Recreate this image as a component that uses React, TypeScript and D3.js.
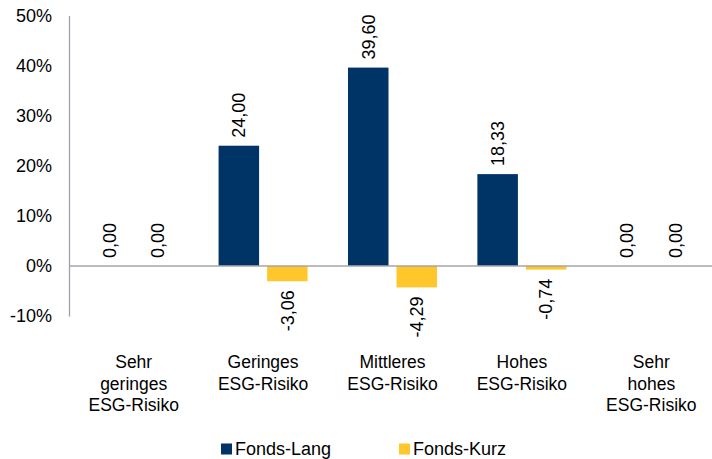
import React, { useEffect, useRef } from 'react';
import * as d3 from 'd3';

const categories = [
  ['Sehr', 'geringes', 'ESG-Risiko'],
  ['Geringes', 'ESG-Risiko'],
  ['Mittleres', 'ESG-Risiko'],
  ['Hohes', 'ESG-Risiko'],
  ['Sehr', 'hohes', 'ESG-Risiko'],
];
const seriesNames = ['Fonds-Lang', 'Fonds-Kurz'];
const fondsLang = [0.0, 24.0, 39.6, 18.33, 0.0];
const fondsKurz = [0.0, -3.06, -4.29, -0.74, 0.0];
const yTicks = [-10, 0, 10, 20, 30, 40, 50];
const colors = ['#003366', '#ffc72c'];

const W = 712;
const H = 459;
const FONT = '"Liberation Sans", Arial, sans-serif';

function fmt(v: number) {
  return v.toFixed(2).replace('.', ',');
}

export default function App() {
  const ref = useRef<SVGSVGElement | null>(null);

  useEffect(() => {
    const svg = d3.select(ref.current);
    svg.selectAll('*').remove();

    const left = 69;
    const right = 716;
    const top = 15.5;
    const bottom = 316;

    const y = d3.scaleLinear().domain([-10, 50]).range([bottom, top]);
    const x0 = d3.scaleBand<number>()
      .domain(d3.range(categories.length))
      .range([left, right])
      .paddingInner(0.312)
      .paddingOuter(0.156);
    const x1 = d3.scaleBand<string>()
      .domain(seriesNames)
      .range([0, x0.bandwidth()])
      .paddingInner(0.165);

    const series = [fondsLang, fondsKurz];

    // y axis labels, no ticks
    const yAxis = d3.axisLeft(y)
      .tickValues(yTicks)
      .tickSize(0)
      .tickPadding(17)
      .tickFormat((d) => `${d}%`);
    const gy = svg.append('g')
      .attr('transform', `translate(${left},0)`)
      .call(yAxis);
    gy.select('.domain').attr('stroke', '#9aa3ab').attr('stroke-width', 1.3);
    gy.selectAll('text')
      .attr('font-family', FONT)
      .attr('font-size', 18)
      .attr('fill', '#000');

    // bars
    series.forEach((vals, si) => {
      const name = seriesNames[si];
      svg.append('g')
        .selectAll('rect')
        .data(vals)
        .enter()
        .append('rect')
        .attr('x', (d, i) => x0(i)! + x1(name)!)
        .attr('width', x1.bandwidth())
        .attr('y', (d) => y(Math.max(0, d)))
        .attr('height', (d) => Math.abs(y(d) - y(0)))
        .attr('fill', colors[si]);
    });

    // zero line
    svg.append('line')
      .attr('x1', left)
      .attr('x2', W)
      .attr('y1', y(0))
      .attr('y2', y(0))
      .attr('stroke', '#a6a6a6')
      .attr('stroke-width', 1.5);

    // value labels, rotated
    series.forEach((vals, si) => {
      const name = seriesNames[si];
      svg.append('g')
        .selectAll('text')
        .data(vals)
        .enter()
        .append('text')
        .attr('transform', (d, i) => {
          const cx = x0(i)! + x1(name)! + x1.bandwidth() / 2;
          const cy = d < 0 ? y(d) + 9 : y(d) - 8;
          return `translate(${cx},${cy}) rotate(-90)`;
        })
        .attr('dy', '0.35em')
        .attr('text-anchor', (d) => (d < 0 ? 'end' : 'start'))
        .attr('font-family', FONT)
        .attr('font-size', 18)
        .attr('fill', '#000')
        .text((d) => fmt(d));
    });

    // category labels
    const cat = svg.append('g')
      .selectAll('text')
      .data(categories)
      .enter()
      .append('text')
      .attr('x', (d, i) => x0(i)! + x0.bandwidth() / 2)
      .attr('y', 368)
      .attr('text-anchor', 'middle')
      .attr('font-family', FONT)
      .attr('font-size', 17.5)
      .attr('fill', '#000');
    cat.selectAll('tspan')
      .data((d) => d)
      .enter()
      .append('tspan')
      .attr('x', function () {
        return (this as any).parentNode.getAttribute('x');
      })
      .attr('dy', (d, i) => (i === 0 ? 0 : 21.5))
      .text((d) => d);

    // legend
    const legendX = [221, 399];
    const legend = svg.append('g')
      .selectAll('g')
      .data(seriesNames)
      .enter()
      .append('g')
      .attr('transform', (d, i) => `translate(${legendX[i]},449)`);
    legend.append('rect')
      .attr('x', 0)
      .attr('y', -5.5)
      .attr('width', 11)
      .attr('height', 11)
      .attr('fill', (d, i) => colors[i]);
    legend.append('text')
      .attr('x', 14)
      .attr('dy', '0.35em')
      .attr('font-family', FONT)
      .attr('font-size', 18)
      .attr('fill', '#000')
      .text((d) => d);
  }, []);

  return (
    <svg
      ref={ref}
      width={W}
      height={H}
      style={{ position: 'absolute', left: 0, top: 0, background: '#fff' }}
    />
  );
}
